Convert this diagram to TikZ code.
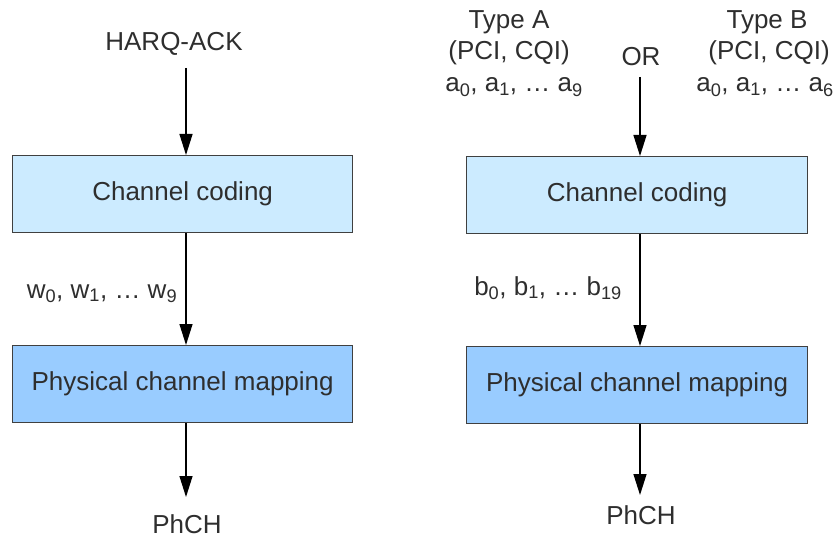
\documentclass[tikz,border=0pt]{standalone}
\usepackage{fontspec}
\setmainfont{Liberation Sans}
\usetikzlibrary{arrows.meta}
\definecolor{codefill}{HTML}{CCEBFF}
\definecolor{mapfill}{HTML}{99CCFF}

\begin{document}
\begin{tikzpicture}[x=1pt,y=-1pt]
	\tikzstyle{every node}+=[inner sep=0pt, font=\fontsize{26}{31}\selectfont, text=black!82]
	\tikzstyle{block}=[draw=black!75, line width=1.3pt, minimum height=77pt, anchor=north west]
	\tikzstyle{lbl}=[anchor=base]
	\tikzstyle{arr}=[line width=1.3pt, -{Triangle[width=13pt,length=21pt]}]
	\useasboundingbox (0,0) rectangle (837,537);
	% HARQ-ACK chain
	\node[lbl] (harq) at (174,51) {HARQ-ACK};
	\node[block, fill=codefill, minimum width=340pt] (code1) at (12,155) {Channel coding};
	\node[lbl] (w) at (102,298) {w\textsubscript{0}, w\textsubscript{1}, \dots\ w\textsubscript{9}};
	\node[block, fill=mapfill, minimum width=340pt] (map1) at (12,345) {Physical channel mapping};
	\node[lbl] (phch1) at (187,533) {PhCH};
	\coordinate (in1) at (186,68);
	\coordinate (out1) at (186,497);
	\draw[arr] (in1) -- (in1 |- code1.north);
	\draw[arr] (code1.south -| in1) -- (map1.north -| in1);
	\draw[arr] (map1.south -| in1) -- (out1);
	% PCI/CQI chain
	\node[lbl] (typeA) at (509,29) {Type A};
	\node[lbl] (pciA) at (509,60) {(PCI, CQI)};
	\node[lbl] (bitsA) at (514,92) {a\textsubscript{0}, a\textsubscript{1}, \dots\ a\textsubscript{9}};
	\node[lbl] (or) at (641,66) {OR};
	\node[lbl] (typeB) at (767,29) {Type B};
	\node[lbl] (pciB) at (769,60) {(PCI, CQI)};
	\node[lbl] (bitsB) at (765,92) {a\textsubscript{0}, a\textsubscript{1}, \dots\ a\textsubscript{6}};
	\node[block, fill=codefill, minimum width=341pt] (code2) at (466,156) {Channel coding};
	\node[lbl] (b) at (548,295) {b\textsubscript{0}, b\textsubscript{1}, \dots\ b\textsubscript{19}};
	\node[block, fill=mapfill, minimum width=341pt] (map2) at (466,346) {Physical channel mapping};
	\node[lbl] (phch2) at (641,524) {PhCH};
	\coordinate (in2) at (640,77);
	\coordinate (out2) at (640,495);
	\draw[arr] (in2) -- (in2 |- code2.north);
	\draw[arr] (code2.south -| in2) -- (map2.north -| in2);
	\draw[arr] (map2.south -| in2) -- (out2);
\end{tikzpicture}
\end{document}
